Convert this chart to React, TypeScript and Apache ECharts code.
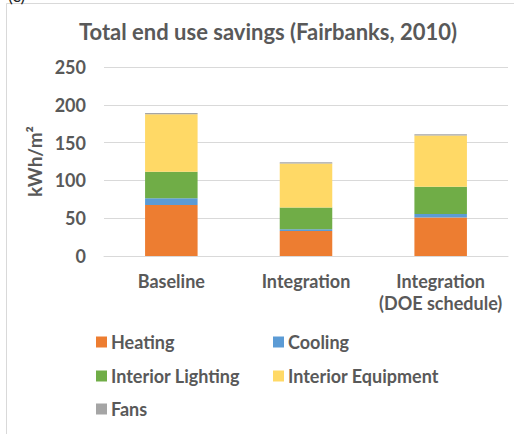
import React, { useEffect, useRef } from "react";
import * as echarts from "echarts";

const categories = ["Baseline", "Integration", "Integration\n(DOE schedule)"];
const heating = [67.5, 33, 51];
const cooling = [9, 2.5, 4.5];
const interiorLighting = [35, 28.5, 36];
const interiorEquipment = [76, 58.5, 68];
const fans = [1.5, 1.5, 1.5];

const seriesNames = ["Heating", "Cooling", "Interior Lighting", "Interior Equipment", "Fans"];
const seriesData = [heating, cooling, interiorLighting, interiorEquipment, fans];
const colors = ["#ED7D31", "#5B9BD5", "#70AD47", "#FFD966", "#A5A5A5"];

const TEXT = "#595959";
const FONT = "Lato";

export default function App() {
  const ref = useRef<HTMLDivElement>(null);
  useEffect(() => {
    document.body.style.margin = "0";
    const chart = echarts.init(ref.current!, null, { renderer: "svg" });
    const legendPos = [
      { left: 96, top: 333 },
      { left: 273, top: 333 },
      { left: 96, top: 367 },
      { left: 273, top: 367 },
      { left: 96, top: 400 },
    ];
    chart.setOption({
      animation: false,
      color: colors,
      title: {
        text: "Total end use savings (Fairbanks, 2010)",
        left: 263,
        textAlign: "center",
        top: 15,
        textStyle: { fontFamily: FONT, fontWeight: "bold", fontSize: 22, color: TEXT },
      },
      graphic: [
        {
          type: "rect",
          shape: { x: 6.5, y: 3.5, width: 520, height: 440 },
          style: { fill: "none", stroke: "#D9D9D9", lineWidth: 1 },
          silent: true,
        },
        {
          type: "text",
          x: 8,
          y: -14,
          style: { text: "(c)", fontSize: 18, fill: "#222", fontFamily: FONT },
          silent: true,
        },
      ],
      legend: seriesNames.map((n, i) => ({
        data: [n],
        left: legendPos[i].left,
        top: legendPos[i].top,
        orient: "horizontal",
        itemWidth: 11,
        itemHeight: 11,
        itemGap: 0,
        icon: "rect",
        selectedMode: false,
        textStyle: { fontFamily: FONT, fontWeight: "bold", fontSize: 18, color: TEXT, padding: [0, 0, 0, -1] },
        padding: 0,
      })),
      grid: { left: 104, right: 6, top: 67, bottom: 178, containLabel: false },
      xAxis: {
        type: "category",
        data: categories,
        axisLine: { lineStyle: { color: "#D9D9D9" } },
        axisTick: { show: false },
        axisLabel: {
          fontFamily: FONT,
          fontWeight: "bold",
          fontSize: 18,
          color: TEXT,
          margin: 14,
          lineHeight: 22,
          interval: 0,
        },
      },
      yAxis: {
        type: "value",
        min: 0,
        max: 250,
        interval: 50,
        name: "kWh/m²",
        nameLocation: "middle",
        nameGap: 55,
        nameTextStyle: { fontFamily: FONT, fontWeight: "bold", fontSize: 19, color: TEXT },
        axisLine: { show: false },
        axisTick: { show: false },
        splitLine: { lineStyle: { color: "#D9D9D9" } },
        axisLabel: { fontFamily: FONT, fontWeight: "bold", fontSize: 18, color: TEXT, margin: 18 },
      },
      series: seriesNames.map((n, i) => ({
        name: n,
        type: "bar",
        stack: "total",
        barWidth: "39%",
        data: seriesData[i],
        itemStyle: { color: colors[i] },
      })),
    });
    return () => chart.dispose();
  }, []);
  return <div ref={ref} style={{ width: 514, height: 434 }} />;
}
